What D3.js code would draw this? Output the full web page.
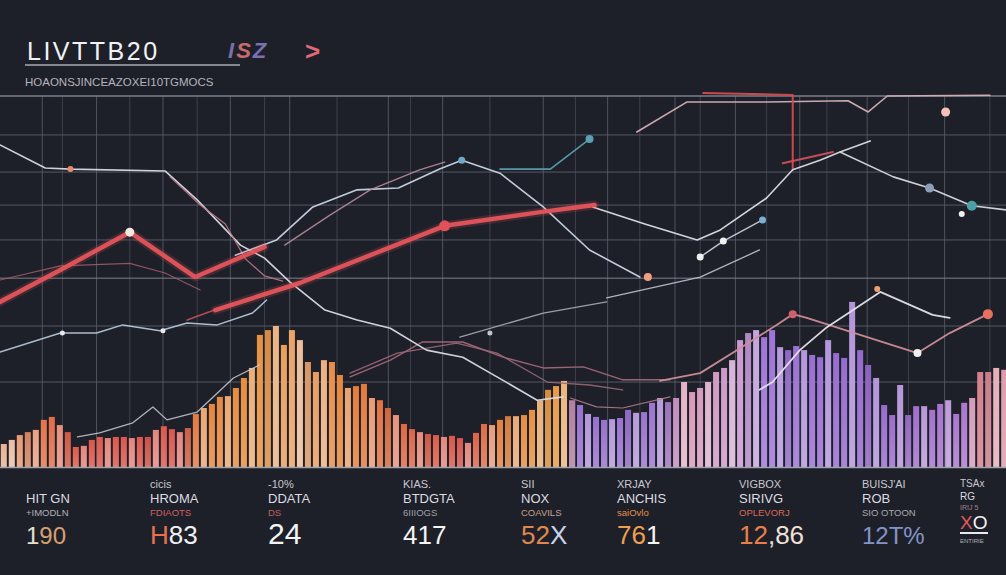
<!DOCTYPE html>
<html><head><meta charset="utf-8">
<script src="https://cdn.jsdelivr.net/npm/d3@7"></script>
<style>
html,body{margin:0;padding:0;background:#1e2029;}
svg{display:block;}
text{font-family:"Liberation Sans","DejaVu Sans",sans-serif;}
</style></head><body>
<svg id="chart" width="1006" height="575"></svg>
<script>
// ---------------- DATA ----------------
const barsWarm = [6.2,7.3,8.6,9.4,10,12.7,13.5,11.3,9.4,5.4,
  5.7,7.3,8.1,7.8,8.1,8.1,7.8,8.1,8.1,10,
  11,10.2,9.4,10.5,14.3,15.9,17,18.9,19.1,21.3,
  24,26.7,35.6,36.9,38,32.9,36.9,34.2,28.3,25.6,
  28.8,28.3,24.8,21.3,21.8,22.4,18.6,18,15.9,14,
  11.6,10.2,9.4,8.9,8.6,8.1,8.4,7.8,6.5,9.2,
  11.6,11.3,12.7,13.7,13.7,14,15.4,18,20.8,21.8,23.2];
const barsCool = [18,16.7,14.3,13.5,12.7,12.9,13.2,15.4,14.6,14.8,
  17.3,18.6,17.5,18.6,22.9,20.2,21.3,22.9,25.6,26.7,
  28.8,34.2,36.1,36.9,35,36.9,32.3,31.5,32.6,31.5,
  30.2,29.6,34.2,30.7,29.4,44.5,31.5,27.5,24,16.7,
  14,22.1,14,16.4,16.4,15.4,17,18,14.3,17.3,
  18.6,25.6,25.6,26.7,26.2];

const redA   = [[0,44.5],[6,53.1],[12.9,63.3],[19.4,51.2],[26.3,59.3]];
const redB   = [[21.4,42.3],[29.8,49.6],[44.2,65],[53.7,68.7],[59.1,70.6]];
const whiteTop = [[0,86.8],[4.5,80.6],[7,80.3],[16.4,79.8],[19.6,72],[23.9,59.8],[26.3,56.3],[28.8,49.9],[32.3,42.3],[35.5,39.6],[38.8,37.4],[42.4,31.5],[46,29.6],[49.4,24.3],[53.4,18],[56,18.9]];
const pinkDrop = [[16.9,78.2],[19.9,70.6],[22.4,65.5],[24.4,56.1],[26.3,51.5],[28.1,50.1]];
const blueRise = [[23.4,57.1],[27.5,61.2],[31.1,70.1],[35.5,74.7],[39.6,75.2],[43.7,80.3],[45.9,82.7],[49.7,79.2],[54,70.1],[58.6,58.5],[63.6,51.2]];
const pinkRise = [[28.3,59.8],[32.8,67.9],[36.8,74.7],[41.7,80.1],[44.2,82.2]];
const topLine  = [[63.3,90.3],[68.3,98.4],[76.2,98.4],[84.3,98.7],[86.3,95.7],[88.2,100],[98.4,100.2]];
const redTop   = [[69.9,100.8],[78.8,100.3],[78.8,80.1]];
const tealShort = [[49.7,80.3],[54.7,80.3],[58.6,88.4]];
const whiteV   = [[58.9,70.1],[64.1,65.5],[69.3,61.2],[71.6,63.9],[76.2,72.5],[78.8,80.1],[81.5,82.7],[83.5,84.9],[86.5,87.9]];
const whiteShort = [[69.6,56.6],[71.9,60.9],[75.8,66.6]];
const greyShort = [[60.3,45.6],[69.6,51.2],[75.5,58.5]];
const whiteFall = [[83.5,84.9],[88.8,78.2],[92.4,75.2],[96.6,70.4],[100,69.3]];
const redMid   = [[77.8,81.9],[82.8,84.9]];
const pinkRight = [[65.6,23.2],[69.6,25.3],[73.6,32.1],[77.2,38.3],[78.8,41.2],[80.2,40.2],[85.5,35.6],[91.2,30.7],[94.4,36.1],[98.2,41.2]];
const whiteRight = [[75.5,20.8],[76.8,22.9],[79.5,31.5],[82.2,37.7],[84.8,42.3],[87.5,47.2],[92.7,41],[94.4,40.2]];
const blueLow  = [[0,31],[6,36.1],[9.6,36.1],[12.2,38.3],[15.9,36.7],[18.6,38.8],[21.6,38.3],[25.1,41.5],[26.5,45]];
const whiteLow = [[7.7,8.1],[9.9,9.2],[13.2,11.9],[15.2,16.2],[16.6,12.7],[19.6,14.8],[23.2,24],[25.8,27.5]];
const pinkMidA = [[34.8,24.3],[38.8,28.8],[42,33.7],[46,33.7],[50,29.6],[54,26.7],[58,27],[61.9,23.5],[66.6,23.5]];
const pinkMidB = [[34.8,25.3],[39.5,30.7],[45.4,33.4],[49.4,30.7],[54.4,22.9],[58.6,22.1],[61.9,20.8]];
const greyMid  = [[45.7,35],[54,41.5],[60.3,44.5]];
const pinkLow  = [[56.7,18.6],[59.3,16.2],[61.9,15.9],[66.6,18.9]];
const redLow   = [[18.6,39.6],[23.2,44.2]];
const pinkLeft = [[0,50.4],[6,54.2],[12.9,54.9],[16.4,52.3],[19.9,47.7]];

const markers = [[12.9,63.3],[44.2,65],[45.9,82.7],[7,80.3],[64.4,51.2],[58.6,88.4],[69.6,56.6],[71.9,60.9],
  [75.8,66.6],[94,95.7],[92.4,75.2],[96.6,70.4],[95.6,68.2],[87.2,48],[78.8,41.2],[91.2,30.7],[98.2,41.2],
  [6.2,36.1],[16.2,36.7],[48.7,36.1]];

const gridYValues = [100,89.5,79.5,70.6,61.2,50.9,38,22.9];
const gridXValues = [4.2,6.2,9.6,12.9,16.2,19.6,22.9,26.3,28.8,33.5,38.6,40.8,44,48.7,54,57.2,60.4,63.6,67.1,69.6,73.1,76.2,79.5,82.2,86.2,90.3,93.9,98.4];

const titleText = "LIVTTB20";
const badgeText = "ISZ";
const subtitleText = "HOAONSJINCEAZOXEI10TGMOCS";
const statTops   = ["", "cicis", "-10%", "KIAS.", "SII", "XRJAY", "VIGBOX", "BUISJ'AI", "TSAx"];
const statNames  = ["HIT GN", "HROMA", "DDATA", "BTDGTA", "NOX", "ANCHIS", "SIRIVG", "ROB", "RG"];
const statSubs   = ["+IMODLN", "FDIAOTS", "DS", "6IIIOGS", "COAVILS", "saiOvlo", "OPLEVORJ", "SIO OTOON", "IRIJ 5"];
const statValues = [["1","90"],["H","83"],["2","4"],["41","7"],["52","X"],["76","1"],["12",",86"],["12","T%"],["X","O"]];

// ---------------- STYLE / LAYOUT ----------------
const W = 1006, H = 575;
const baseY = 467, topY = 96;
const svg = d3.select("#chart");
svg.append("rect").attr("width", W).attr("height", H).attr("fill", "#1e2029");

const x = d3.scaleLinear().domain([0, 100]).range([0, W]);
const y = d3.scaleLinear().domain([0, 100]).range([baseY, topY]);
const allBars = barsWarm.concat(barsCool);
const xb = d3.scaleBand().domain(d3.range(allBars.length)).range([0, 1008]).paddingInner(0.25).paddingOuter(0.1);

// grid
const grid = svg.append("g");
grid.selectAll("line.v").data(gridXValues).join("line")
  .attr("x1", d => x(d)).attr("x2", d => x(d)).attr("y1", topY).attr("y2", baseY)
  .attr("stroke", "#5c5f6b").attr("stroke-width", 1).attr("opacity", (d, i) => i % 2 ? 0.5 : 0.8);
grid.selectAll("line.h").data(gridYValues).join("line")
  .attr("x1", 0).attr("x2", W).attr("y1", d => y(d)).attr("y2", d => y(d))
  .attr("stroke", (d, i) => (i === 0 || i === 5) ? "#8d8f9b" : "#5f626e")
  .attr("stroke-width", (d, i) => i === 0 ? 1.4 : 1).attr("opacity", 0.85);

// bars
const stops = [[0,'#f4c4a4'],[4,'#ee7c4c'],[8,'#e85a4c'],[18,'#e65c50'],[20,'#f08a40'],[26,'#f29842'],[30,'#f6b07a'],[34,'#f08a3a'],[40,'#ea6c48'],[46,'#e2584e'],[50,'#ee8a44'],[55,'#f3a046'],[56.6,'#f4a452'],[57,'#9c74d8'],[66,'#a37bd8'],[68,'#e6a0bc'],[74,'#d0a0dc'],[76,'#a47ae0'],[86,'#9a6ed6'],[96,'#b47cd6'],[97,'#de7e8c'],[100,'#eaa4b4']];
const colorAt = v => {
  for (let i = 1; i < stops.length; i++) {
    if (v <= stops[i][0]) {
      const t = (v - stops[i-1][0]) / (stops[i][0] - stops[i-1][0]);
      return d3.interpolateRgb(stops[i-1][1], stops[i][1])(t);
    }
  }
  return stops[stops.length-1][1];
};
const defs = svg.append("defs");
const fade = defs.append("linearGradient").attr("id", "fade").attr("x1", 0).attr("x2", 0).attr("y1", 0).attr("y2", 1);
fade.append("stop").attr("offset", "0%").attr("stop-color", "#fff").attr("stop-opacity", 0.0);
fade.append("stop").attr("offset", "100%").attr("stop-color", "#fff").attr("stop-opacity", 0.18);

const barG = svg.append("g");
barG.selectAll("rect.bar").data(allBars).join("rect")
  .attr("x", (d, i) => xb(i)).attr("width", xb.bandwidth())
  .attr("y", d => y(d)).attr("height", d => baseY - y(d))
  .attr("fill", (d, i) => {
    const c = colorAt(x.invert(xb(i) + xb.bandwidth() / 2));
    return i % 3 === 1 ? d3.interpolateRgb(c, "#ffffff")(0.3) : (i % 5 === 3 ? d3.interpolateRgb(c, "#000")(0.08) : c);
  })
  .attr("opacity", 0.95);
barG.selectAll("rect.sheen").data(allBars).join("rect")
  .attr("x", (d, i) => xb(i)).attr("width", xb.bandwidth())
  .attr("y", d => y(d)).attr("height", d => baseY - y(d))
  .attr("fill", "url(#fade)");

// lines
const line = d3.line().x(d => x(d[0])).y(d => y(d[1])).curve(d3.curveLinear);
const series = [
  [pinkLeft, "#a9606e", 1.2, 0.8], [blueLow, "#b9cde0", 1.5, 0.9], [whiteLow, "#c8ccd6", 1.3, 0.85],
  [pinkMidA, "#a86a7c", 1.4, 0.9], [pinkMidB, "#9a6878", 1.3, 0.9], [greyMid, "#b0b4c0", 1.3, 0.85],
  [pinkLow, "#b88090", 1.2, 0.85], [redLow, "#c44f5a", 1.6, 0.9],
  [whiteTop, "#d9dbe3", 1.6, 0.95], [pinkDrop, "#b9788a", 1.3, 0.9], [blueRise, "#c9d5e6", 1.6, 0.95],
  [pinkRise, "#b78b9e", 1.3, 0.9], [topLine, "#d4b0b8", 1.6, 0.95], [redTop, "#d64a4e", 2, 0.95],
  [tealShort, "#5a9fb2", 1.6, 0.95], [whiteV, "#dcdde5", 1.6, 0.95], [whiteShort, "#d0d4dc", 1.5, 0.9],
  [greyShort, "#c0c4d0", 1.3, 0.9], [whiteFall, "#d8d8e0", 1.6, 0.95], [redMid, "#d0505a", 2, 0.95],
  [pinkRight, "#cf8e98", 1.8, 0.95], [whiteRight, "#e6e2ea", 1.8, 0.95]
];
const lineG = svg.append("g").attr("fill", "none").attr("stroke-linejoin", "round").attr("stroke-linecap", "round");
lineG.selectAll("path.s").data(series).join("path")
  .attr("d", d => line(d[0])).attr("stroke", d => d[1]).attr("stroke-width", d => d[2]).attr("opacity", d => d[3]);
[redA, redB].forEach(s => {
  lineG.append("path").attr("d", line(s)).attr("stroke", "#e0525a").attr("stroke-width", 9).attr("opacity", 0.18);
  lineG.append("path").attr("d", line(s)).attr("stroke", "#e4545c").attr("stroke-width", 4.5).attr("opacity", 0.95);
});

const markerColors = ["#f3ebe2","#e0525a","#6fa8c8","#e88a70","#f0a080","#5aa0b0","#f0f0f0","#f0f0f0",
  "#7ab0d0","#f5c0b8","#8aa0b8","#4aa0a8","#f0f0f0","#f0a070","#d06070","#f0f0f0","#e87060",
  "#e8e8ee","#e8e8ee","#c0c4cc"];
const markerSizes = [4.5,5.5,3.5,3,4,4,3.5,3.5,3.5,4.5,4.5,5,3,3,4,4,5,2.5,2.5,2.5];
svg.append("g").selectAll("circle").data(markers).join("circle")
  .attr("cx", d => x(d[0])).attr("cy", d => y(d[1]))
  .attr("r", (d, i) => markerSizes[i]).attr("fill", (d, i) => markerColors[i]);

// baseline
svg.append("line").attr("x1", 0).attr("x2", W).attr("y1", baseY + 0.5).attr("y2", baseY + 0.5)
  .attr("stroke", "#a0a2ac").attr("stroke-width", 1.5);

// header
svg.append("text").attr("x", 27).attr("y", 60).attr("font-size", 25).attr("letter-spacing", 2.5)
  .attr("fill", "#f2f2f4").text(titleText);
svg.append("line").attr("x1", 25).attr("x2", 240).attr("y1", 65).attr("y2", 65).attr("stroke", "#a8a8b2").attr("stroke-width", 1.4);
const badge = svg.append("text").attr("x", 228).attr("y", 58).attr("font-size", 22).attr("font-weight", "bold")
  .attr("font-style", "italic").attr("letter-spacing", 2);
badge.append("tspan").attr("fill", "#7a6fa8").text(badgeText[0]);
badge.append("tspan").attr("fill", "#c86a70").text(badgeText[1]);
badge.append("tspan").attr("fill", "#7a6fb0").text(badgeText[2]);
svg.append("text").attr("x", 305).attr("y", 60).attr("font-size", 26).attr("font-weight", "bold").attr("fill", "#e06878").text(">");
svg.append("text").attr("x", 25).attr("y", 86).attr("font-size", 11.5).attr("fill", "#b4b4bc").text(subtitleText);

// stats row
const statX = [26, 150, 268, 403, 521, 617, 739, 862, 960];
const bigColors = [["#e8e0d0","#d8a070"],["#e8704a","#f0f0f2"],["#f4f4f6","#f4f4f6"],["#f4f4f6","#f4f4f6"],["#e08850","#c8d4ea"],["#f0a050","#f4f4f6"],["#e8804a","#f0e0d8"],["#8494c8","#8494c8"],["#e05a5a","#f4f4f6"]];
const bigSizes = [24, 26, 30, 26, 26, 26, 26, 24, 19];
const subColors = ["#b0b0b8","#d06060","#c06060","#a0a0a8","#c8a090","#e0904a","#d86a5a","#a8a8b0","#a08088"];
const statG = svg.append("g");
statX.forEach((sx, i) => {
  const last = i === statX.length - 1;
  statG.append("text").attr("x", sx).attr("y", last ? 487 : 488).attr("font-size", last ? 10 : 11).attr("fill", "#c8c8d0").text(statTops[i]);
  statG.append("text").attr("x", sx).attr("y", last ? 500 : 503).attr("font-size", last ? 10 : 13).attr("fill", "#dcdce2").text(statNames[i]);
  statG.append("text").attr("x", sx).attr("y", last ? 510 : 516).attr("font-size", last ? 7 : 9.5).attr("fill", subColors[i]).text(statSubs[i]);
  const t = statG.append("text").attr("x", sx).attr("y", last ? 529 : 544).attr("font-size", bigSizes[i]);
  t.append("tspan").attr("fill", bigColors[i][0]).text(statValues[i][0]);
  t.append("tspan").attr("fill", bigColors[i][1]).text(statValues[i][1]);
  if (last) {
    statG.append("line").attr("x1", sx).attr("x2", sx + 28).attr("y1", 533).attr("y2", 533).attr("stroke", "#e8e8ee").attr("stroke-width", 2);
    statG.append("text").attr("x", sx).attr("y", 543).attr("font-size", 6).attr("fill", "#b0b0b8").text("ENTIRIE");
  }
});
</script>
</body></html>
